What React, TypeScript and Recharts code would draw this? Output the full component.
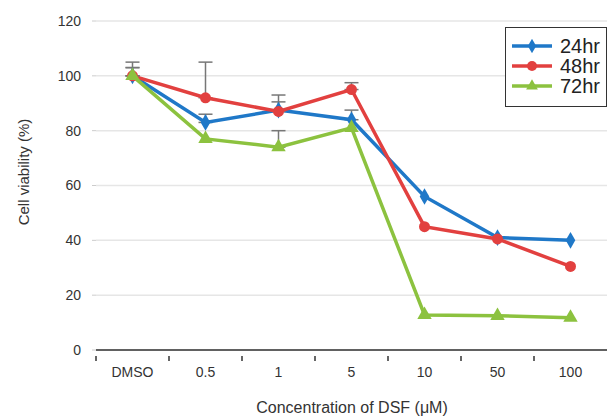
import React from 'react';
import {
  LineChart,
  Line,
  XAxis,
  YAxis,
  CartesianGrid,
  ErrorBar,
  Symbols,
} from 'recharts';

const concentrations = ['DMSO', '0.5', '1', '5', '10', '50', '100'];
const viability24 = [100, 83, 87.5, 84, 56, 41, 40];
const viability48 = [100, 92, 87, 95, 45, 40.5, 30.5];
const viability72 = [100, 77, 74, 81, 12.8, 12.5, 11.8];
// upward error (SD); null where no bar is visible
const err24 = [3, 3, 3, 3.5, null, null, null];
const err48 = [5, 13, 6, 2.5, null, null, null];
const err72 = [3, null, 6, null, null, null, null];
const yTicks = [0, 20, 40, 60, 80, 100, 120];

const BLUE = '#1f78c8';
const RED = '#e2403f';
const GREEN = '#8cc23f';

const chartData = concentrations.map((c, i) => ({
  name: c,
  h24: viability24[i],
  h48: viability48[i],
  h72: viability72[i],
  e24: err24[i] == null ? null : [0, err24[i]],
  e48: err48[i] == null ? null : [0, err48[i]],
  e72: err72[i] == null ? null : [0, err72[i]],
}));

const series = [
  { key: 'h24', err: 'e24', label: '24hr', color: BLUE, shape: 'diamond' },
  { key: 'h48', err: 'e48', label: '48hr', color: RED, shape: 'circle' },
  { key: 'h72', err: 'e72', label: '72hr', color: GREEN, shape: 'triangle' },
];

const makeDot = (color: string, shape: string) => (props: any) => {
  const { cx, cy, index } = props;
  if (cx == null || cy == null) return <g key={index} />;
  if (shape === 'circle') {
    return <circle key={index} cx={cx} cy={cy} r={5.5} fill={color} stroke="none" />;
  }
  return (
    <Symbols
      key={index}
      cx={cx}
      cy={cy}
      type={shape as any}
      size={shape === 'diamond' ? 80 : 90}
      fill={color}
      stroke="none"
    />
  );
};

const HALF_BAND = 36.5;

const XTick = (props: any) => {
  const { x, y, payload } = props;
  return (
    <g>
      <line x1={x - HALF_BAND} y1={y - 2} x2={x - HALF_BAND} y2={y + 3} stroke="#333" strokeWidth={1.5} />
      <text x={x} y={y + 19} textAnchor="middle" fontSize={14} fill="#333">
        {payload.value}
      </text>
    </g>
  );
};

const LegendBox = () => (
  <div
    style={{
      position: 'absolute',
      left: 505,
      top: 27,
      border: '1.5px solid #333',
      background: '#fff',
      width: 100,
      padding: '8px 0 10px 0',
      fontFamily: 'Liberation Sans, Arial, sans-serif',
    }}
  >
    {series.map((s) => (
      <div key={s.key} style={{ display: 'flex', alignItems: 'center', height: 20 }}>
        <svg width={48} height={14} style={{ marginLeft: 6 }}>
          <line x1={0} y1={7} x2={40} y2={7} stroke={s.color} strokeWidth={3.5} />
          {s.shape === 'circle' ? (
            <circle cx={20} cy={7} r={5} fill={s.color} />
          ) : (
            <Symbols cx={20} cy={7} type={s.shape as any} size={60} fill={s.color} />
          )}
        </svg>
        <span style={{ fontSize: 20, color: '#222', lineHeight: '20px' }}>{s.label}</span>
      </div>
    ))}
  </div>
);

export default function App() {
  return (
    <div style={{ position: 'absolute', left: 0, top: 0, width: 608, height: 418, background: '#fff' }}>
      <LineChart
        width={608}
        height={418}
        data={chartData}
        margin={{ top: 21, right: 1, bottom: 0, left: 0 }}
        style={{ fontFamily: 'Liberation Sans, Arial, sans-serif' }}
      >
        <CartesianGrid vertical={false} stroke="#e6e6e6" strokeWidth={1.5} />
        <XAxis
          dataKey="name"
          scale="band"
          tickLine={false}
          axisLine={{ stroke: '#333', strokeWidth: 1.5 }}
          tick={<XTick />}
          interval={0}
          height={68}
          label={{
            content: () => (
              <text x={352} y={413} textAnchor="middle" fontSize={16} fill="#333">
                Concentration of DSF (μM)
              </text>
            ),
          }}
        />
        <YAxis
          domain={[0, 120]}
          ticks={yTicks}
          width={96}
          axisLine={false}
          tickLine={{ stroke: '#ccc' }}
          tickSize={4}
          tickMargin={11}
          tick={{ fontSize: 14, fill: '#333' }}
          label={{
            content: () => (
              <text
                x={23}
                y={172}
                transform="rotate(-90, 23, 172)"
                textAnchor="middle"
                dominantBaseline="central"
                fontSize={15}
                fill="#333"
              >
                Cell viability (%)
              </text>
            ),
          }}
        />
        {series.map((s) => (
          <Line
            key={s.key}
            dataKey={s.key}
            name={s.label}
            stroke={s.color}
            strokeWidth={3.5}
            dot={makeDot(s.color, s.shape)}
            activeDot={false}
            isAnimationActive={false}
          >
            <ErrorBar dataKey={s.err} width={7} stroke="#777" strokeWidth={1.5} direction="y" />
          </Line>
        ))}
      </LineChart>
      <LegendBox />
    </div>
  );
}
